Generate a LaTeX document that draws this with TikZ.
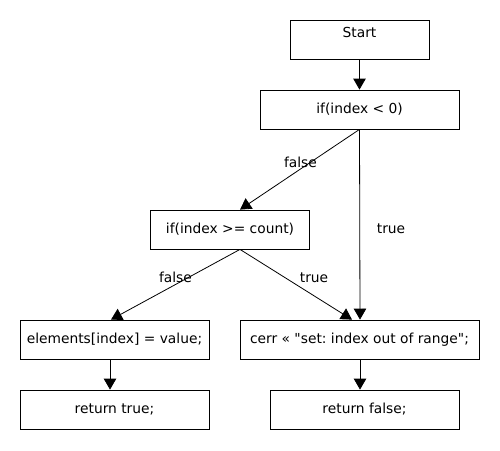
\documentclass[tikz,border=0pt]{standalone}
\usepackage{fontspec}
\setmainfont{DejaVu Sans}[Ligatures=TeXOff]
\usetikzlibrary{arrows.meta}
\frenchspacing

\begin{document}
\begin{tikzpicture}[x=1pt, y=-1pt,
    font=\fontsize{13.8pt}{16pt}\selectfont,
    box/.style={draw, line width=0.8pt, fill=white, inner sep=0pt, minimum height=39pt, text height=10pt, text depth=3pt},
    flow/.style={-{Triangle[length=11pt, width=12.5pt]}, line width=0.8pt}]
    \useasboundingbox (0,0) rectangle (500,450);

    \node[box, minimum width=139pt, text height=17pt, text depth=22pt] (startBox) at (359.5,39.5) {Start};
    \node[box, minimum width=199pt] (ifZero) at (359.5,109.5) {if(index < 0)};
    \node[box, minimum width=159pt] (ifCount) at (230,229.5) {if(index >= count)};
    \node[box, minimum width=189pt] (setElem) at (114.5,339.5) {elements[index] = value;};
    \node[box, minimum width=239pt] (cerrMsg) at (359.5,339.5) {cerr « "set: index out of range";};
    \node[box, minimum width=189pt] (retTrue) at (114.5,409.5) {return true;};
    \node[box, minimum width=189pt] (retFalse) at (364.5,409.5) {return false;};

    \draw[flow] (startBox.south) -- (ifZero.north);
    \draw[flow] (ifZero.south) -- ([xshift=10]ifCount.north);
    \draw[flow] (ifZero.south) -- ([xshift=0.5]cerrMsg.north);
    \draw[flow] ([xshift=10]ifCount.south) -- ([xshift=-3.5]setElem.north);
    \draw[flow] ([xshift=10]ifCount.south) -- ([xshift=-7.5]cerrMsg.north);
    \draw[flow] ([xshift=-4.5]setElem.south) -- ([xshift=-4.5]retTrue.north);
    \draw[flow] ([xshift=0.5]cerrMsg.south) -- ([xshift=-4.5]retFalse.north);

    \node[anchor=base] (falseZero) at (300.5,167) {false};
    \node[anchor=base] (trueZero) at (391,233) {true};
    \node[anchor=base] (falseCount) at (175.5,282) {false};
    \node[anchor=base] (trueCount) at (314,282) {true};
\end{tikzpicture}
\end{document}
